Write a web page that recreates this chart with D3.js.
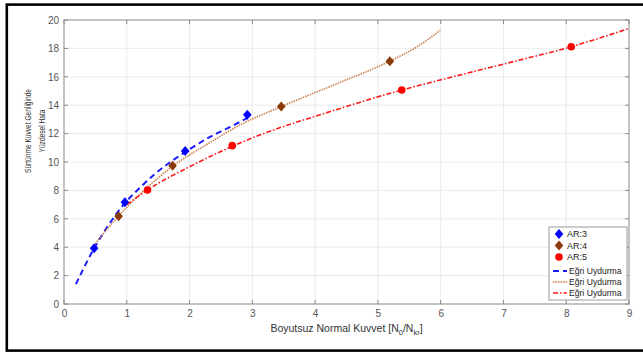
<!DOCTYPE html>
<html>
<head>
<meta charset="utf-8">
<script src="https://cdn.jsdelivr.net/npm/d3@7"></script>
<style>
  body { margin: 0; background: #fff; }
  svg { font-family: 'Liberation Sans', Arial, sans-serif; }
  .grid line { stroke: #ebebeb; stroke-width: 1; }
  .tick text { fill: #555; font-size: 10px; }
</style>
</head>
<body>
<svg width="643" height="356"></svg>
<script>
// measured points (diamonds / circles)
const ar3 = [[0.48, 3.93], [0.97, 7.16], [1.93, 10.77], [2.92, 13.33]];
const ar4 = [[0.87, 6.18], [1.73, 9.74], [3.46, 13.9], [5.19, 17.1]];
const ar5 = [[1.33, 8.03], [2.68, 11.15], [5.38, 15.07], [8.08, 18.12]];

// fitted curves
const fit3 = [[0.19, 1.4], [0.48, 3.92], [0.7, 5.5], [0.97, 7.1], [1.2, 8.15], [1.42, 9.05],
  [1.93, 10.7], [2.32, 11.75], [2.75, 12.7], [2.92, 13.1]];
const fit4 = [[0.47, 4.1], [0.87, 6.2], [1.3, 8.1], [1.73, 9.7], [2.3, 11.3], [2.8, 12.6],
  [3.46, 13.9], [4.34, 15.5], [5.19, 17.1], [5.62, 18.1], [6.0, 19.3]];
const fit5 = [[1.0, 7.0], [1.33, 8.03], [2.06, 9.8], [2.68, 11.1], [3.12, 11.9], [4.24, 13.55],
  [5.38, 15.07], [5.99, 15.77], [7.05, 16.95], [8.08, 18.12], [9.0, 19.4]];

const xTicks = [0, 1, 2, 3, 4, 5, 6, 7, 8, 9];
const yTicks = [0, 2, 4, 6, 8, 10, 12, 14, 16, 18, 20];
const legendNames = ['AR:3', 'AR:4', 'AR:5', 'Eğri Uydurma', 'Eğri Uydurma', 'Eğri Uydurma'];

const margin = { left: 64, right: 14, top: 20, bottom: 52 };
const svg = d3.select('svg');
const width = +svg.attr('width');
const height = +svg.attr('height');
const innerWidth = width - margin.left - margin.right;
const innerHeight = height - margin.top - margin.bottom;

// outer black frame
svg.append('rect')
  .attr('x', 6.8).attr('y', 4.6)
  .attr('width', 640).attr('height', 346)
  .attr('fill', 'none').attr('stroke', '#000').attr('stroke-width', 2.6);

const g = svg.append('g')
  .attr('transform', `translate(${margin.left},${margin.top})`);

const xScale = d3.scaleLinear().domain([0, 9]).range([0, innerWidth]);
const yScale = d3.scaleLinear().domain([0, 20]).range([innerHeight, 0]);

// grid
g.append('g').attr('class', 'grid')
  .selectAll('line').data(xTicks).enter().append('line')
    .attr('x1', d => xScale(d)).attr('x2', d => xScale(d))
    .attr('y1', 0).attr('y2', innerHeight);
g.append('g').attr('class', 'grid')
  .selectAll('line').data(yTicks).enter().append('line')
    .attr('x1', 0).attr('x2', innerWidth)
    .attr('y1', d => yScale(d)).attr('y2', d => yScale(d));

// axes
const xAxisG = g.append('g').attr('transform', `translate(0,${innerHeight})`)
  .call(d3.axisBottom(xScale).tickValues(xTicks).tickSize(0).tickPadding(6));
const yAxisG = g.append('g')
  .call(d3.axisLeft(yScale).tickValues(yTicks).tickSize(0).tickPadding(5));
[xAxisG, yAxisG].forEach(a => a.select('.domain').remove());

// box + inward ticks
g.append('rect')
  .attr('width', innerWidth).attr('height', innerHeight)
  .attr('fill', 'none').attr('stroke', '#a8a8a8').attr('stroke-width', 1.3);
const tk = g.append('g').attr('stroke', '#888').attr('stroke-width', 1);
yTicks.forEach(d => {
  tk.append('line').attr('x1', 0).attr('x2', 4).attr('y1', yScale(d)).attr('y2', yScale(d));
  tk.append('line').attr('x1', innerWidth - 4).attr('x2', innerWidth).attr('y1', yScale(d)).attr('y2', yScale(d));
});
xTicks.forEach(d => {
  tk.append('line').attr('x1', xScale(d)).attr('x2', xScale(d)).attr('y1', innerHeight).attr('y2', innerHeight - 4);
  tk.append('line').attr('x1', xScale(d)).attr('x2', xScale(d)).attr('y1', 0).attr('y2', 4);
});

// curves
const line = d3.line()
  .x(d => xScale(d[0])).y(d => yScale(d[1]))
  .curve(d3.curveMonotoneX);

const styles = [
  { color: '#0000ff', lineColor: '#1a1aff', dash: '6,4', w: 2, marker: 'diamond' },
  { color: '#8b3a0a', lineColor: '#c9804f', dash: '1.5,1', w: 1.6, marker: 'diamond' },
  { color: '#ff0000', lineColor: '#ff1a1a', dash: '5,2,1.5,2', w: 1.6, marker: 'circle' }
];
const fits = [fit3, fit4, fit5];
const pts = [ar3, ar4, ar5];

fits.forEach((f, i) => {
  g.append('path').datum(f)
    .attr('d', line)
    .attr('fill', 'none')
    .attr('stroke', styles[i].lineColor)
    .attr('stroke-width', styles[i].w)
    .attr('stroke-dasharray', styles[i].dash);
});

// MATLAB-like diamond, a bit wider than d3's
const diamond = 'M0,-5L4.3,0L0,5L-4.3,0Z';
pts.forEach((p, i) => {
  const s = styles[i];
  if (s.marker === 'diamond') {
    g.selectAll(null).data(p).enter().append('path')
      .attr('d', diamond)
      .attr('transform', d => `translate(${xScale(d[0])},${yScale(d[1])})`)
      .attr('fill', s.color);
  } else {
    g.selectAll(null).data(p).enter().append('circle')
      .attr('cx', d => xScale(d[0])).attr('cy', d => yScale(d[1]))
      .attr('r', 3.8).attr('fill', s.color);
  }
});

// axis labels
const xl = svg.append('text')
  .attr('x', margin.left + innerWidth / 2).attr('y', 332)
  .attr('text-anchor', 'middle').attr('fill', '#333').attr('font-size', 10.5);
xl.append('tspan').text('Boyutsuz Normal Kuvvet [N');
xl.append('tspan').attr('font-size', 7.5).attr('dy', 3).text('0');
xl.append('tspan').attr('dy', -3).text('/N');
xl.append('tspan').attr('font-size', 7.5).attr('dy', 3).text('kr');
xl.append('tspan').attr('dy', -3).text(']');

const yl = svg.append('text')
  .attr('transform', 'translate(31,131) rotate(-90)')
  .attr('text-anchor', 'middle').attr('fill', '#333').attr('font-size', 9.5);
yl.append('tspan').attr('x', 0).attr('dy', 0)
  .attr('textLength', 84).attr('lengthAdjust', 'spacingAndGlyphs')
  .text('Sürtünme Kuvvet Genliğinde');
yl.append('tspan').attr('x', 0).attr('dy', 13.5)
  .attr('textLength', 43).attr('lengthAdjust', 'spacingAndGlyphs')
  .text('Yüzdesel Hata');

// legend
const lg = svg.append('g');
lg.append('rect')
  .attr('x', 549).attr('y', 227).attr('width', 78).attr('height', 73)
  .attr('fill', '#fff').attr('stroke', '#9a9a9a').attr('stroke-width', 1);
const rowY = [234, 245.5, 257, 271, 282, 293];
legendNames.forEach((name, i) => {
  const y = rowY[i];
  if (i < 3) {
    const s = styles[i];
    if (s.marker === 'diamond') {
      lg.append('path').attr('d', diamond)
        .attr('transform', `translate(559,${y})`).attr('fill', s.color);
    } else {
      lg.append('circle').attr('cx', 559).attr('cy', y).attr('r', 3.8).attr('fill', s.color);
    }
    lg.append('text').attr('x', 567).attr('y', y + 3.3)
      .attr('font-size', 9).attr('fill', '#222').text(name);
  } else {
    const s = styles[i - 3];
    lg.append('line').attr('x1', 553).attr('x2', 567).attr('y1', y).attr('y2', y)
      .attr('stroke', s.lineColor).attr('stroke-width', s.w)
      .attr('stroke-dasharray', s.dash);
    lg.append('text').attr('x', 569).attr('y', y + 3)
      .attr('font-size', 8.6).attr('fill', '#222').text(name);
  }
});
</script>
</body>
</html>
